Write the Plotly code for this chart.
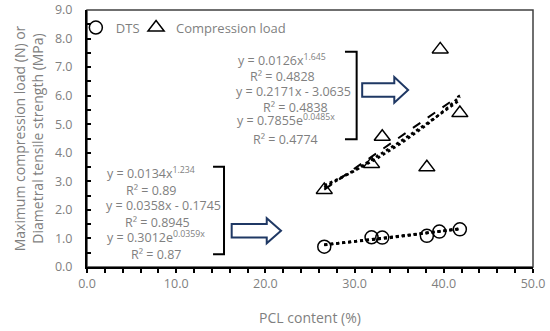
import numpy as np
import plotly.graph_objects as go

# ---- data ----
pcl_content = [26.6, 31.9, 33.1, 38.1, 39.5, 41.8]
dts = [0.71, 1.04, 1.03, 1.09, 1.24, 1.32]
pcl_content_comp = [26.6, 31.9, 33.1, 38.1, 39.6, 41.8]
compression_load = [2.70, 3.61, 4.56, 3.49, 7.62, 5.39]

# trendline coefficients shown on the chart
dts_power = (0.0134, 1.234)
dts_linear = (0.0358, -0.1745)
dts_exp = (0.3012, 0.0359)
comp_power = (0.0126, 1.645)
comp_linear = (0.2171, -3.0635)
comp_exp = (0.7855, 0.0485)

x_ticks = [0, 10, 20, 30, 40, 50]
y_ticks = [0, 1, 2, 3, 4, 5, 6, 7, 8, 9]

GRAY = "#7f7f7f"
FONT = "Open Sans"

fig = go.Figure()

def trend_traces(xs, power, linear, expo, styles):
    xx = np.linspace(min(xs), max(xs), 60)
    ys = [power[0] * xx ** power[1], linear[0] * xx + linear[1], expo[0] * np.exp(expo[1] * xx)]
    for yv, (dash, w) in zip(ys, styles):
        fig.add_trace(go.Scatter(x=xx, y=yv, mode="lines", showlegend=False, hoverinfo="skip",
                                 line=dict(color="black", width=w, dash=dash)))

trend_traces(pcl_content, dts_power, dts_linear, dts_exp, [("dot", 2.5), ("dot", 2.5), ("dot", 2.5)])
trend_traces(pcl_content_comp, comp_power, comp_linear, comp_exp, [("dot", 2.5), ("dash", 2), ("dot", 2.5)])

fig.add_trace(go.Scatter(x=pcl_content, y=dts, mode="markers", name="DTS", legend="legend",
                         marker=dict(symbol="circle-open", size=13, color="black", line=dict(width=1.5))))
fig.add_trace(go.Scatter(x=pcl_content_comp, y=compression_load, mode="markers", name="Compression load",
                         legend="legend2",
                         marker=dict(symbol="triangle-up-open", size=14, color="black", line=dict(width=1.5))))

# ---- equation labels ----
upper_labels = [
    ("y = 0.0126x<sup>1.645</sup>", 21.9, 7.25),
    ("R² = 0.4828", 21.9, 6.66),
    ("y = 0.2171x - 3.0635", 23.2, 6.13),
    ("R² = 0.4838", 23.4, 5.57),
    ("y = 0.7855e<sup>0.0485x</sup>", 22.3, 5.15),
    ("R² = 0.4774", 22.3, 4.48),
]
lower_labels = [
    ("y = 0.0134x<sup>1.234</sup>", 7.2, 3.28),
    ("R² = 0.89", 7.2, 2.67),
    ("y = 0.0358x - 0.1745", 8.55, 2.17),
    ("R² = 0.8945", 7.9, 1.57),
    ("y = 0.3012e<sup>0.0359x</sup>", 7.7, 1.06),
    ("R² = 0.87", 7.7, 0.445),
]
for txt, xa, ya in upper_labels + lower_labels:
    fig.add_annotation(x=xa, y=ya, text=txt, showarrow=False, xanchor="center", yanchor="middle",
                       font=dict(family=FONT, size=12.5, color=GRAY))

# ---- brackets ----
for xv, xarm, ytop, ybot in [(30.23, 28.92, 7.54, 4.47), (15.36, 14.13, 3.51, 0.445)]:
    fig.add_shape(type="path", xref="x", yref="y",
                  path=f"M {xarm},{ytop} L {xv},{ytop} L {xv},{ybot} L {xarm},{ybot}",
                  line=dict(color="black", width=2))

# ---- block arrows ----
def block_arrow(x0, xb, x1, yc, hs, hh):
    return (f"M {x0},{yc+hs} L {xb},{yc+hs} L {xb},{yc+hh} L {x1},{yc} "
            f"L {xb},{yc-hh} L {xb},{yc-hs} L {x0},{yc-hs} Z")

fig.add_shape(type="path", xref="x", yref="y", path=block_arrow(30.85, 34.45, 36.0, 6.2, 0.235, 0.45),
              line=dict(color="#1f3864", width=2), fillcolor="white")
fig.add_shape(type="path", xref="x", yref="y", path=block_arrow(16.22, 20.15, 21.75, 1.27, 0.235, 0.44),
              line=dict(color="#1f3864", width=2), fillcolor="white")

# plot border
fig.add_shape(type="rect", xref="paper", yref="paper", x0=0, x1=1, y0=0, y1=1,
              line=dict(color="#404040", width=1.5), layer="below")

legend_common = dict(orientation="h", y=0.99, xanchor="left", yanchor="top",
                     font=dict(family=FONT, size=13, color=GRAY), bgcolor="rgba(0,0,0,0)",
                     itemwidth=30)
fig.update_layout(
    width=550, height=331,
    margin=dict(l=87, r=17, t=10, b=64, autoexpand=False),
    paper_bgcolor="white", plot_bgcolor="white",
    font=dict(family=FONT, color=GRAY),
    legend=dict(x=-0.025, **legend_common),
    legend2=dict(x=0.11, **legend_common),
    showlegend=True,
)
fig.update_xaxes(range=[0, 50], tickvals=x_ticks, ticktext=[f"{v:.1f}" for v in x_ticks],
                 showgrid=False, zeroline=False, showline=True, linecolor="black", linewidth=2,
                 ticks="outside", ticklen=4, tickcolor="black", tickwidth=1.5, automargin=False,
                 minor=dict(dtick=2, ticks="outside", ticklen=4, tickcolor="black", tickwidth=1.5),
                 tickfont=dict(family=FONT, size=12.5, color=GRAY),
                 title=dict(text="PCL content (%)", font=dict(family=FONT, size=14, color=GRAY), standoff=22))
fig.update_yaxes(range=[0, 9], tickvals=y_ticks, ticktext=[f"{v:.1f}" for v in y_ticks],
                 showgrid=False, zeroline=False, showline=True, linecolor="black", linewidth=2,
                 ticks="inside", ticklen=4, tickcolor="black", tickwidth=1.5, automargin=False,
                 minor=dict(dtick=0.5, ticks="inside", ticklen=4, tickcolor="black", tickwidth=1.5),
                 tickfont=dict(family=FONT, size=12.5, color=GRAY), ticklabelstandoff=10,
                 title=dict(text="Maximum compression load (N) or<br>Diametral tensile strength (MPa)",
                            font=dict(family=FONT, size=14, color=GRAY), standoff=8))

fig.write_html("out.html", config={"displayModeBar": False},
               post_script="document.body.style.margin='0';")
